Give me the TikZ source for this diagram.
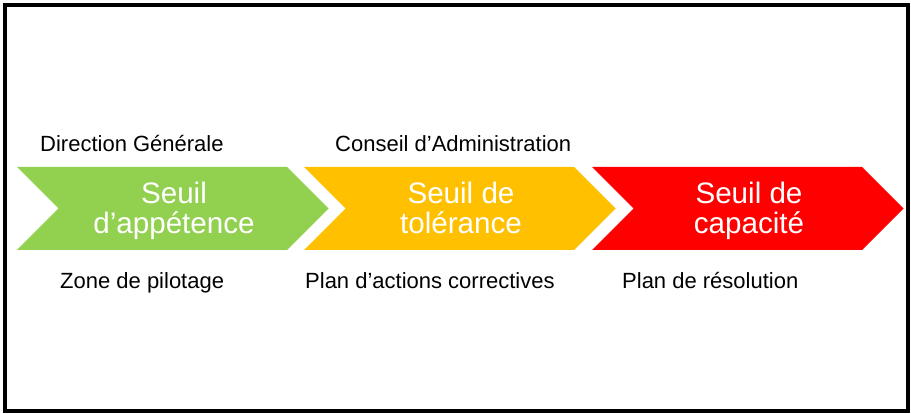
\documentclass[tikz,border=0pt]{standalone}
\usepackage{fontspec}
\setmainfont{Liberation Sans}

\definecolor{appetence}{HTML}{92D050}
\definecolor{tolerance}{HTML}{FFC000}
\definecolor{capacite}{HTML}{FF0000}

\tikzset{
	chevron/.style={draw=none},
	seuiltext/.style={text=white,align=center,anchor=north,font=\fontsize{29.6}{29.5}\selectfont,inner sep=0pt},
	labeltext/.style={text=black,anchor=base west,font=\fontsize{22}{24}\selectfont,inner sep=0pt}
}

\begin{document}
\begin{tikzpicture}[x=1pt,y=-1pt]
	% frame
	\useasboundingbox (0,0) rectangle (911,414);
	\draw[line width=4pt] (5,5) rectangle (908,411);

	% chevrons
	\fill[chevron,appetence] (17,167) -- (287,167) -- (328.5,208.5) -- (287,250) -- (17,250) -- (58.5,208.5) -- cycle;
	\fill[chevron,tolerance] (304,167) -- (574,167) -- (615.5,208.5) -- (574,250) -- (304,250) -- (345.5,208.5) -- cycle;
	\fill[chevron,capacite] (592,167) -- (862,167) -- (903.5,208.5) -- (862,250) -- (592,250) -- (633.5,208.5) -- cycle;

	% texts in the chevrons
	\node[seuiltext] (appetence) at (174,182) {Seuil\\d’appétence};
	\node[seuiltext] (tolerance) at (461,182) {Seuil de\\tolérance};
	\node[seuiltext] (capacite) at (749,182) {Seuil de\\capacité};

	% labels above
	\node[labeltext] (direction) at (40,152) {Direction Générale};
	\node[labeltext] (conseil) at (335,152) {Conseil d’Administration};

	% labels below
	\node[labeltext] (pilotage) at (60,289) {Zone de pilotage};
	\node[labeltext] (actions) at (305,289) {Plan d’actions correctives};
	\node[labeltext] (resolution) at (622,289) {Plan de résolution};

\end{tikzpicture}
\end{document}
